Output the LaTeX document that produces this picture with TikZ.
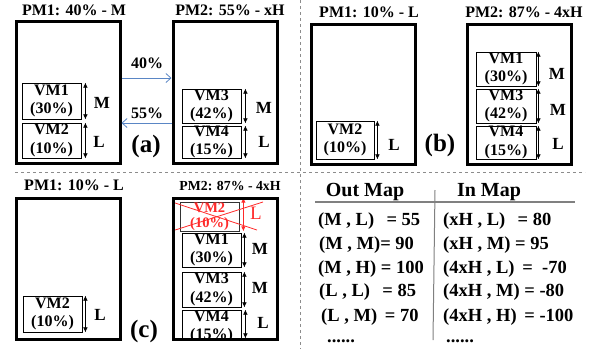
\documentclass[tikz,border=0pt]{standalone}
\usepackage{fontspec}
\setmainfont{Liberation Serif}
\usetikzlibrary{arrows.meta}
\definecolor{arrblue}{HTML}{5A86C5}
\definecolor{sepgray}{HTML}{8C8C8C}
\definecolor{myred}{HTML}{FF2A2A}
\begin{document}
\begin{tikzpicture}[x=1pt,y=-1pt,
  pm/.style={draw, line width=3pt, minimum width=104pt, minimum height=142pt, inner sep=0pt},
  vm/.style={draw, line width=0.8pt, minimum width=59pt, inner sep=0pt},
  vmt/.style={align=center, inner sep=0pt, font=\fontsize{16}{18.5}\selectfont\bfseries},
  ttl/.style={inner sep=0pt, font=\fontsize{16}{18}\selectfont\bfseries},
  lbl/.style={inner sep=0pt, font=\fontsize{17}{19}\selectfont\bfseries},
  pan/.style={inner sep=0pt, font=\fontsize{25}{28}\selectfont\bfseries},
  dbl/.style={{Latex[length=5pt,width=4.5pt]}-{Latex[length=5pt,width=4.5pt]}, line width=0.6pt},
  mig/.style={-{Straight Barb[length=5pt,width=9pt]}, arrblue, line width=0.8pt},
  pct/.style={inner sep=0pt, font=\fontsize{16}{18}\selectfont\bfseries},
  row/.style={inner sep=0pt, anchor=west, font=\fontsize{18.5}{20}\selectfont\bfseries},
  dots/.style={inner sep=0pt, anchor=base west, font=\fontsize{18.5}{20}\selectfont\bfseries},
  hdr/.style={inner sep=0pt, font=\fontsize{20}{22}\selectfont\bfseries},
  sep/.style={sepgray, line width=1pt, dash pattern=on 3pt off 3pt}]
\useasboundingbox (0,0) rectangle (600,349);
% separators
\coordinate (hl) at (15,172); \coordinate (hr) at (585,172);
\coordinate (vt) at (300,0); \coordinate (vb) at (300,349);
\draw[sep] (hl) -- (hr);
\draw[sep] (vt) -- (vb);

% ===== panel (a) =====
\node[ttl] (ta1) at (74,10) {PM1: 40\% - M};
\node[ttl] (ta2) at (230,10) {PM2: 55\% - xH};
\node[vm, minimum height=36pt] (avm1) at (51.5,101) {};
\node[vmt] (avm1t) at (avm1.center) {VM1\\(30\%)};
\node[vm, minimum height=35pt] (avm2) at (51.5,140.5) {};
\node[vmt] (avm2t) at (avm2.center) {VM2\\(10\%)};
\draw[dbl] ([xshift=4pt]avm1.north east) -- ([xshift=4pt]avm1.south east);
\draw[dbl] ([xshift=4pt]avm2.north east) -- ([xshift=4pt]avm2.south east);
\node[lbl] (al1) at (102,103) {M};
\node[lbl] (al2) at (99,142) {L};
\node[vm, minimum height=34pt] (avm3) at (211.5,106) {};
\node[vmt] (avm3t) at (avm3.center) {VM3\\(42\%)};
\node[vm, minimum height=32pt] (avm4) at (211.5,142) {};
\node[vmt] (avm4t) at (avm4.center) {VM4\\(15\%)};
\draw[dbl] ([xshift=4pt]avm3.north east) -- ([xshift=4pt]avm3.south east);
\draw[dbl] ([xshift=4pt]avm4.north east) -- ([xshift=4pt]avm4.south east);
\node[lbl] (al3) at (264,108) {M};
\node[lbl] (al4) at (264,142) {L};
\node[pm] (apm1) at (68,92) {};
\node[pm] (apm2) at (225,92) {};
\draw[mig] ([yshift=14pt]apm1.east) -- ([yshift=14pt]apm2.west);
\draw[mig] ([yshift=-31pt]apm2.west) -- ([yshift=-31pt]apm1.east);
\node[pct] (ap1) at (147,63) {40\%};
\node[pct] (ap2) at (147,113) {55\%};
\node[pan] (apan) at (146,146) {(a)};

% ===== panel (b) =====
\node[ttl] (tb1) at (369,12) {PM1: 10\% - L};
\node[ttl] (tb2) at (524,12) {PM2: 87\% - 4xH};
\node[vm, minimum height=38pt, minimum width=58pt] (bvm2) at (345,140) {};
\node[vmt] (bvm2t) at (bvm2.center) {VM2\\(10\%)};
\draw[dbl] ([xshift=3pt]bvm2.north east) -- ([xshift=3pt]bvm2.south east);
\node[lbl] (bl2) at (394,145) {L};
\node[vm, minimum height=34pt, minimum width=60pt] (bvm1) at (506,69) {};
\node[vmt] (bvm1t) at (bvm1.center) {VM1\\(30\%)};
\node[vm, minimum height=34pt, minimum width=60pt] (bvm3) at (506,106) {};
\node[vmt] (bvm3t) at (bvm3.center) {VM3\\(42\%)};
\node[vm, minimum height=33pt, minimum width=60pt] (bvm4) at (506,142.5) {};
\node[vmt] (bvm4t) at (bvm4.center) {VM4\\(15\%)};
\draw[dbl] ([xshift=2pt]bvm1.north east) -- ([xshift=2pt]bvm1.south east);
\draw[dbl] ([xshift=2pt]bvm3.north east) -- ([xshift=2pt]bvm3.south east);
\draw[dbl] ([xshift=2pt]bvm4.north east) -- ([xshift=2pt]bvm4.south east);
\node[lbl] (bl1) at (557,74) {M};
\node[lbl] (bl3) at (558,110) {M};
\node[lbl] (bl4) at (558,144) {L};
\node[pm, minimum height=140pt] (bpm1) at (363.5,94) {};
\node[pm, minimum height=140pt] (bpm2) at (519.5,94) {};
\node[pan] (bpan) at (440,145) {(b)};

% ===== panel (c) =====
\node[ttl] (tc1) at (74,185.5) {PM1: 10\% - L};
\node[ttl, font=\fontsize{13.8}{16}\selectfont\bfseries] (tc2) at (230,186) {PM2: 87\% - 4xH};
\node[vm, minimum height=36pt] (cvm2) at (52.5,314) {};
\node[vmt] (cvm2t) at (cvm2.center) {VM2\\(10\%)};
\draw[dbl] ([xshift=3pt]cvm2.north east) -- ([xshift=3pt]cvm2.south east);
\node[lbl] (cl2) at (100,315) {L};
% red VM2
\node[vm, draw=black!80, minimum height=29pt] (rvm2) at (209.5,216.5) {};
\node[vmt, myred, font=\fontsize{14.5}{15.5}\selectfont\bfseries] (rvm2t) at (rvm2.center) {VM2\\(10\%)};
\draw[dbl, myred, line width=0.9pt] ([xshift=4pt,yshift=4pt]rvm2.north east) -- ([xshift=4pt]rvm2.south east);
\node[lbl, myred, font=\fontsize{19}{21}\selectfont] (rl) at (256,213) {L};
\draw[myred, line width=0.8pt] (172,202) -- (257,230);
\draw[myred, line width=0.8pt] (172,231) -- (263,202);
\node[vm, minimum height=34pt] (cvm1) at (211.5,250) {};
\node[vmt] (cvm1t) at (cvm1.center) {VM1\\(30\%)};
\node[vm, minimum height=35pt] (cvm3) at (211.5,289.5) {};
\node[vmt] (cvm3t) at (cvm3.center) {VM3\\(42\%)};
\draw[dbl] ([xshift=3pt]cvm1.north east) -- ([xshift=3pt]cvm1.south east);
\draw[dbl] ([xshift=3pt]cvm3.north east) -- ([xshift=3pt]cvm3.south east);
\node[lbl] (cl1) at (260,249) {M};
\node[lbl] (cl3) at (260,288) {M};
\begin{scope}
\clip (170,195) rectangle (280,339);
\node[vm, minimum height=36pt] (cvm4) at (211.5,328) {};
\node[vmt] (cvm4t) at (211.5,327) {VM4\\(15\%)};
\draw[dbl] ([xshift=4pt]cvm4.north east) -- ([xshift=4pt,yshift=8pt]cvm4.south east);
\end{scope}
\node[lbl] (cl4) at (263,323) {L};
\node[pm, minimum height=141pt] (cpm1) at (68.5,269) {};
\node[pm, minimum height=141pt] (cpm2) at (225,269) {};
\node[pan] (cpan) at (144,331) {(c)};

% ===== maps =====
\node[hdr] (h1) at (365,192) {Out Map};
\node[hdr] (h2) at (489,192) {In Map};
\coordinate (tl) at (315,202); \coordinate (tr) at (575,202);
\coordinate (vtop) at (435,190); \coordinate (vbot) at (433,340);
\draw[gray, line width=1.3pt] (tl) -- (tr);
\draw[gray, line width=1pt] (vtop) -- (vbot);
\node[row] (o1) at (318,221) {(M , L) \ \,= 55};
\node[row] (o2) at (319,245) {(M , M)= 90};
\node[row] (o3) at (318,269) {(M , H) = 100};
\node[row] (o4) at (319,292.5) {(L , L) \ \,= 85};
\node[row] (o5) at (321,317) {(L , M) \,= 70};
\node[dots] (o6) at (327,342) {......};
\node[row] (i1) at (443,221) {(xH , L) \ \,= 80};
\node[row] (i2) at (443,245) {(xH , M) = 95};
\node[row] (i3) at (443,269) {(4xH , L) \,= \ -70};
\node[row] (i4) at (443,292.5) {(4xH , M) = -80};
\node[row] (i5) at (443,317) {(4xH , H) \,= -100};
\node[dots] (i6) at (446,342) {......};
\end{tikzpicture}
\end{document}
